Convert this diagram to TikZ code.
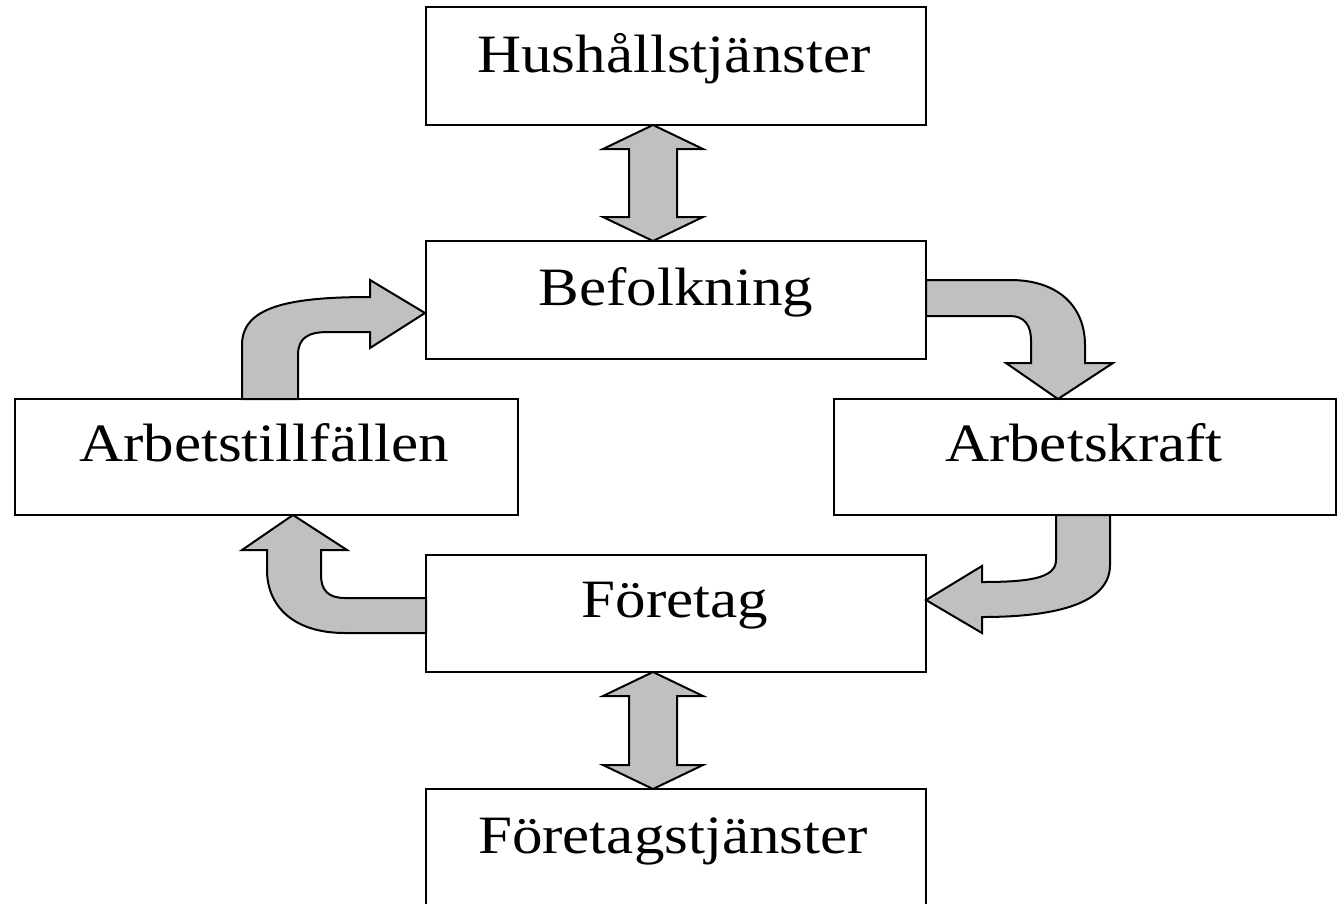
\documentclass[tikz,border=0pt]{standalone}
\usepackage{fontspec}
\setmainfont{Liberation Serif}
\begin{document}
\begin{tikzpicture}[x=1pt,y=-1pt,
  box/.style={draw=black,line width=2pt,fill=white},
  lbl/.style={anchor=base,inner sep=0pt,xscale=1.13,font=\fontsize{54}{60}\selectfont},
  flow/.style={draw=black,line width=2pt,fill=arrowgray,line join=miter}]
\definecolor{arrowgray}{RGB}{192,192,192}
\useasboundingbox (0,0) rectangle (1339,903);
\fill[white] (0,0) rectangle (1339,903);
% boxes
\path[box] (426,7) rectangle (926,125) coordinate (hushBR);
\coordinate (hush) at (676,66);
\path[box] (426,241) rectangle (926,359);
\coordinate (bef) at (676,300);
\path[box] (15,399) rectangle (518,515);
\coordinate (arbt) at (266.5,457);
\path[box] (834,399) rectangle (1336,515);
\coordinate (arbk) at (1085,457);
\path[box] (426,555) rectangle (926,672);
\coordinate (fore) at (676,613);
\path[box] (426,789) rectangle (926,912);
\coordinate (foret) at (676,850);
% labels
\node[lbl] (thush) at (674,72) {Hushållstjänster};
\node[lbl] (tbef) at (676,305) {Befolkning};
\node[lbl] (tarbt) at (264,461) {Arbetstillfällen};
\node[lbl] (tarbk) at (1084,461) {Arbetskraft};
\node[lbl] (tfore) at (675,617) {Företag};
\node[lbl] (tforet) at (673,853) {Företagstjänster};
% double arrows
\path[flow] (653,125) -- (703,149) -- (677,149) -- (677,217) -- (703,217) -- (653,241)
  -- (603,217) -- (629,217) -- (629,149) -- (603,149) -- cycle;
\path[flow] (653,672) -- (703,696) -- (677,696) -- (677,765) -- (703,765) -- (653,789)
  -- (603,765) -- (629,765) -- (629,696) -- (603,696) -- cycle;
% Arbetstillfällen -> Befolkning
\path[flow] (242,399) -- (242,345) .. controls (242,308) and (285,297) .. (370,297)
  -- (370,280) -- (425,313) -- (370,348) -- (370,332) -- (328,332)
  .. controls (308,332) and (298,338) .. (298,355) -- (298,399) -- cycle;
% Befolkning -> Arbetskraft
\path[flow] (926,280) -- (1010,280) .. controls (1060,280) and (1085,308) .. (1085,345)
  -- (1085,363) -- (1113,363) -- (1058,399) -- (1006,363) -- (1031,363) -- (1031,340)
  .. controls (1031,325) and (1024,316) .. (1010,316) -- (926,316) -- cycle;
% Arbetskraft -> Företag
\path[flow] (1110,515) -- (1110,565) .. controls (1110,602) and (1060,617) .. (982,617)
  -- (982,633) -- (926,600) -- (982,566) -- (982,582)
  .. controls (1030,582) and (1056,578) .. (1056,560) -- (1056,515) -- cycle;
% Företag -> Arbetstillfällen
\path[flow] (426,633) -- (345,633) .. controls (292,633) and (267,605) .. (267,570)
  -- (267,550) -- (242,550) -- (293,515) -- (347,550) -- (321,550) -- (321,575)
  .. controls (321,590) and (328,598) .. (345,598) -- (426,598) -- cycle;
\end{tikzpicture}
\end{document}
